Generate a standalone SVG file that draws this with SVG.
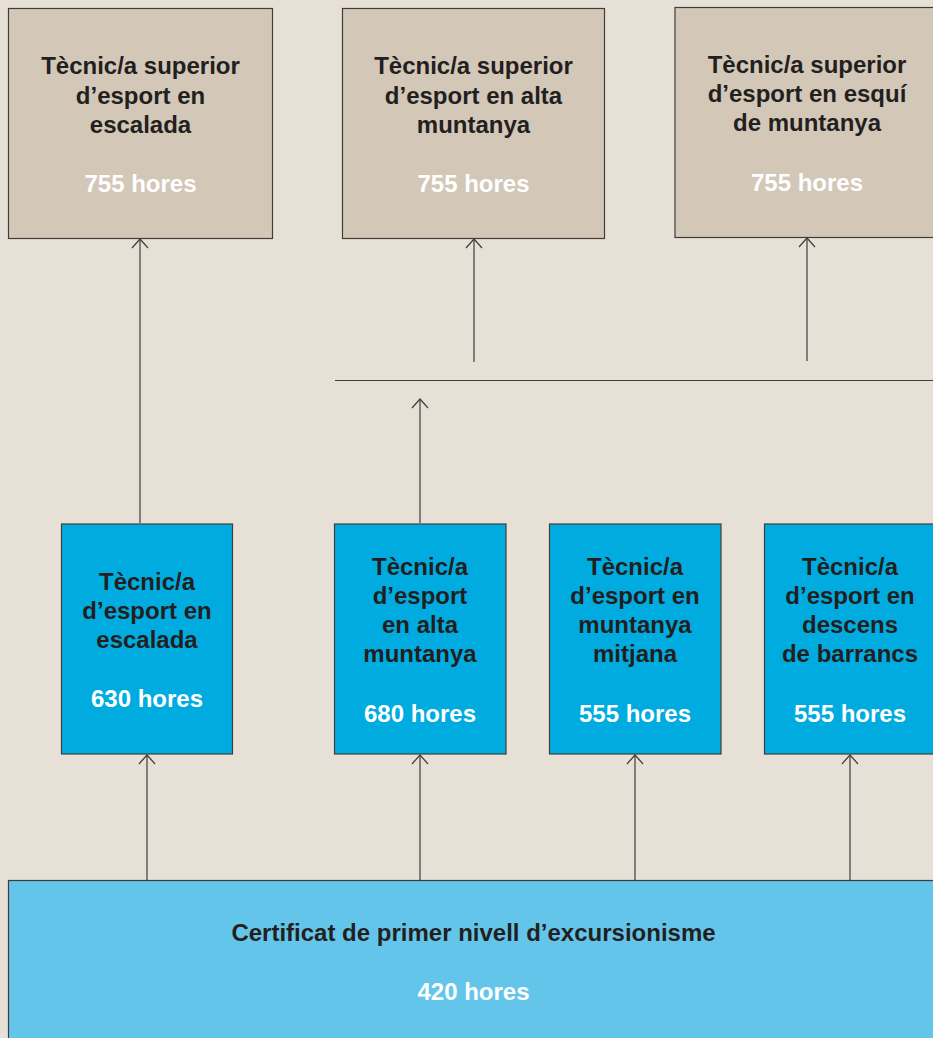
<svg xmlns="http://www.w3.org/2000/svg" width="933" height="1038" viewBox="0 0 933 1038">
  <style>
    .bg { fill: #e7e0d7; }
    .top { fill: #d3c7b8; stroke: #3f3c3a; stroke-width: 1.2; }
    .mid { fill: #00acdf; stroke: #3f3c3a; stroke-width: 1.2; }
    .base { fill: #64c5eb; stroke: #3f3c3a; stroke-width: 1.2; }
    text { font-family: "Liberation Sans", Arial, sans-serif; font-weight: bold; font-size: 24px; text-anchor: middle; }
    .dark { fill: #231f20; }
    .light { fill: #ffffff; }
    .conn line { stroke: #3f3c3a; stroke-width: 1.2; fill: none; }
  </style>
  <defs>
    <marker id="arr" markerUnits="userSpaceOnUse" markerWidth="20" markerHeight="20" refX="0" refY="0" orient="auto" overflow="visible">
      <path d="M-9,-8 L0,0 L-9,8" fill="none" stroke="#3f3c3a" stroke-width="1.2"/>
    </marker>
  </defs>
  <rect class="bg" x="0" y="0" width="933" height="1038"/>

  <g id="connectors" class="conn">
    <line x1="140" y1="523" x2="140" y2="239" marker-end="url(#arr)"/>
    <line x1="474" y1="362" x2="474" y2="239" marker-end="url(#arr)"/>
    <line x1="807" y1="361" x2="807" y2="238" marker-end="url(#arr)"/>
    <line x1="335" y1="380.5" x2="933" y2="380.5"/>
    <line x1="420" y1="523" x2="420" y2="399" marker-end="url(#arr)"/>
    <line x1="147" y1="880" x2="147" y2="755" marker-end="url(#arr)"/>
    <line x1="420" y1="880" x2="420" y2="755" marker-end="url(#arr)"/>
    <line x1="635" y1="880" x2="635" y2="755" marker-end="url(#arr)"/>
    <line x1="850" y1="880" x2="850" y2="755" marker-end="url(#arr)"/>
  </g>

  <g id="sup-escalada">
    <rect class="top" x="8.5" y="8.5" width="264" height="230"/>
    <text class="dark" x="140.5" y="74">Tècnic/a superior</text>
    <text class="dark" x="140.5" y="104">d’esport en</text>
    <text class="dark" x="140.5" y="133">escalada</text>
    <text class="light" x="140.5" y="192">755 hores</text>
  </g>
  <g id="sup-alta-muntanya">
    <rect class="top" x="342.5" y="8.5" width="262" height="230"/>
    <text class="dark" x="473.5" y="74">Tècnic/a superior</text>
    <text class="dark" x="473.5" y="104">d’esport en alta</text>
    <text class="dark" x="473.5" y="133">muntanya</text>
    <text class="light" x="473.5" y="192">755 hores</text>
  </g>
  <g id="sup-esqui">
    <rect class="top" x="675" y="7.5" width="270" height="230"/>
    <text class="dark" x="807" y="73">Tècnic/a superior</text>
    <text class="dark" x="807" y="102">d’esport en esquí</text>
    <text class="dark" x="807" y="131">de muntanya</text>
    <text class="light" x="807" y="191">755 hores</text>
  </g>

  <g id="tec-escalada">
    <rect class="mid" x="61.5" y="524" width="171" height="230"/>
    <text class="dark" x="147" y="590">Tècnic/a</text>
    <text class="dark" x="147" y="619">d’esport en</text>
    <text class="dark" x="147" y="648">escalada</text>
    <text class="light" x="147" y="707">630 hores</text>
  </g>
  <g id="tec-alta-muntanya">
    <rect class="mid" x="334.5" y="524" width="171.5" height="230"/>
    <text class="dark" x="420" y="575">Tècnic/a</text>
    <text class="dark" x="420" y="604">d’esport</text>
    <text class="dark" x="420" y="633">en alta</text>
    <text class="dark" x="420" y="662">muntanya</text>
    <text class="light" x="420" y="722">680 hores</text>
  </g>
  <g id="tec-muntanya-mitjana">
    <rect class="mid" x="549.5" y="524" width="171.5" height="230"/>
    <text class="dark" x="635" y="575">Tècnic/a</text>
    <text class="dark" x="635" y="604">d’esport en</text>
    <text class="dark" x="635" y="633">muntanya</text>
    <text class="dark" x="635" y="662">mitjana</text>
    <text class="light" x="635" y="722">555 hores</text>
  </g>
  <g id="tec-barrancs">
    <rect class="mid" x="764.5" y="524" width="180" height="230"/>
    <text class="dark" x="850" y="575">Tècnic/a</text>
    <text class="dark" x="850" y="604">d’esport en</text>
    <text class="dark" x="850" y="633">descens</text>
    <text class="dark" x="850" y="662">de barrancs</text>
    <text class="light" x="850" y="722">555 hores</text>
  </g>

  <g id="certificat">
    <rect class="base" x="8.5" y="880.5" width="940" height="170"/>
    <text class="dark" x="473.5" y="941">Certificat de primer nivell d’excursionisme</text>
    <text class="light" x="473.5" y="1000">420 hores</text>
  </g>
</svg>
